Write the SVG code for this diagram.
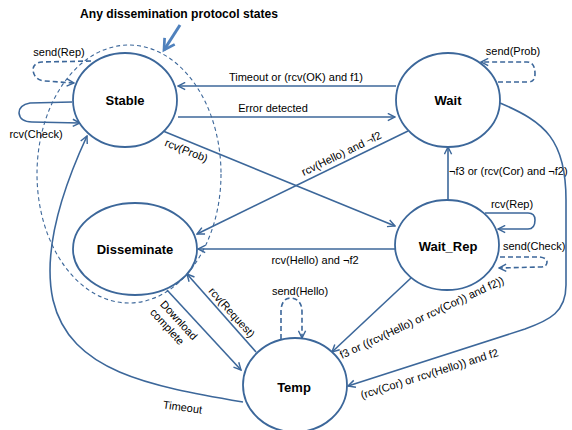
<svg xmlns="http://www.w3.org/2000/svg" width="572" height="430" viewBox="0 0 572 430">
<defs>
<style>
.node{fill:#fff;stroke:#3c679a;stroke-width:1.8}
.nl{font-family:"Liberation Sans",Arial,sans-serif;font-weight:bold;font-size:13px;fill:#000;text-anchor:middle}
.e{fill:none;stroke:#3c679a;stroke-width:1.6}
.d{stroke-dasharray:5 3}
.lb{font-family:"Liberation Sans",Arial,sans-serif;font-size:11px;fill:#000}
.m{text-anchor:middle}
</style>
<marker id="ah" viewBox="0 0 10 10" refX="9" refY="5" markerWidth="9" markerHeight="9" markerUnits="userSpaceOnUse" orient="auto">
<path d="M1,1 L9,5 L1,9" fill="none" stroke="#3c679a" stroke-width="1.6"/>
</marker>
<marker id="ah2" viewBox="0 0 10 10" refX="8" refY="5" markerWidth="5" markerHeight="5" orient="auto">
<path d="M1,1 L8,5 L1,9" fill="none" stroke="#4f81bd" stroke-width="1.8"/>
</marker>
</defs>
<rect width="572" height="430" fill="#fff"/>

<g id="group-boundary">
<ellipse cx="129" cy="174" rx="92" ry="129" fill="none" stroke="#3c679a" stroke-width="1.1" stroke-dasharray="4 3"/>
<text x="179" y="18" font-family="Liberation Sans,Arial,sans-serif" font-weight="bold" font-size="13" text-anchor="middle" textLength="198" lengthAdjust="spacingAndGlyphs">Any dissemination protocol states</text>
<line x1="180" y1="25" x2="164" y2="50" stroke="#4f81bd" stroke-width="3" marker-end="url(#ah2)"/>
</g>

<g id="connectors">
<line class="e" x1="396" y1="86" x2="178" y2="86" marker-end="url(#ah)"/>
<text class="lb m" x="296" y="81">Timeout or (rcv(OK) and f1)</text>
<line class="e" x1="178" y1="117" x2="395" y2="117" marker-end="url(#ah)"/>
<text class="lb m" x="273" y="112">Error detected</text>
<line class="e" x1="163" y1="131" x2="395" y2="226" marker-end="url(#ah)"/>
<text class="lb m" x="185" y="154" transform="rotate(22 185 154)">rcv(Prob)</text>
<line class="e" x1="408" y1="131" x2="197" y2="234" marker-end="url(#ah)"/>
<text class="lb m" x="343" y="157" transform="rotate(-26 343 157)">rcv(Hello) and ¬f2</text>
<line class="e" x1="396" y1="249" x2="198" y2="249" marker-end="url(#ah)"/>
<text class="lb m" x="315" y="264">rcv(Hello) and ¬f2</text>
<line class="e" x1="448" y1="200" x2="448" y2="147" marker-end="url(#ah)"/>
<text class="lb" x="449" y="175">¬f3 or (rcv(Cor) and ¬f2)</text>
<path class="e" d="M485,213 L528,213 Q535,213 535,220 Q535,229 528,229 L498,229" marker-end="url(#ah)"/>
<text class="lb m" x="512" y="208">rcv(Rep)</text>
<path class="e d" d="M500,257 L540,257 Q547,258 547,262 Q547,267 540,267 L499,268" marker-end="url(#ah)"/>
<text class="lb" x="503" y="250">send(Check)</text>
<line class="e" x1="411" y1="278" x2="332" y2="352" marker-end="url(#ah)"/>
<text class="lb" x="342" y="359" transform="rotate(-25 342 359)">f3 or ((rcv(Hello) or rcv(Cor)) and f2))</text>
<path class="e" d="M500,103 C545,122 566,140 566,200 L566,285 C566,312 550,320 525,329 L348,386" marker-end="url(#ah)"/>
<text class="lb" x="362" y="399" transform="rotate(-17.5 362 399)">(rcv(Cor) or rcv(Hello)) and f2</text>
<line class="e" x1="256" y1="352" x2="187" y2="274" marker-end="url(#ah)"/>
<text class="lb m" x="229" y="315" transform="rotate(48 229 315)">rcv(Request)</text>
<line class="e" x1="167" y1="290" x2="241" y2="370" marker-end="url(#ah)"/>
<g transform="translate(179 320) rotate(47.6)">
<text class="lb m" x="0" y="4">Download</text>
<text class="lb m" x="-3" y="17">complete</text>
</g>
<path class="e" d="M243,402 C150,386 70,372 53,300 C42,250 62,190 87,136" marker-end="url(#ah)"/>
<text class="lb m" x="182" y="411" transform="rotate(8 182 411)">Timeout</text>
<path class="e d" d="M91,61 L42,62 Q33,63 33,70 Q34,80 45,81 L74,83" marker-end="url(#ah)"/>
<text class="lb m" x="59" y="56">send(Rep)</text>
<path class="e" d="M72,102 L30,103 Q19,105 19,113 Q20,122 32,122 L80,123" marker-end="url(#ah)"/>
<text class="lb m" x="36" y="138">rcv(Check)</text>
<path class="e d" d="M498,82 L528,82 Q535,82 535,74 Q535,62 527,62 L481,62" marker-end="url(#ah)"/>
<text class="lb m" x="513" y="55">send(Prob)</text>
<path class="e d" d="M281,339 L281,310 Q282,298 291,298 Q302,299 302,312 L302,338" marker-end="url(#ah)"/>
<text class="lb m" x="300" y="295">send(Hello)</text>
</g>

<g id="node-stable"><ellipse class="node" cx="125" cy="100" rx="52" ry="47"/><text class="nl" x="125" y="105">Stable</text></g>
<g id="node-wait"><ellipse class="node" cx="448" cy="100" rx="52" ry="47"/><text class="nl" x="448" y="105">Wait</text></g>
<g id="node-disseminate"><ellipse class="node" cx="135" cy="249" rx="62" ry="46"/><text class="nl" x="135" y="254">Disseminate</text></g>
<g id="node-waitrep"><ellipse class="node" cx="447" cy="245" rx="52" ry="45"/><text class="nl" x="448" y="251">Wait_Rep</text></g>
<g id="node-temp"><ellipse class="node" cx="295" cy="385" rx="52" ry="47"/><text class="nl" x="294" y="392">Temp</text></g>
</svg>
